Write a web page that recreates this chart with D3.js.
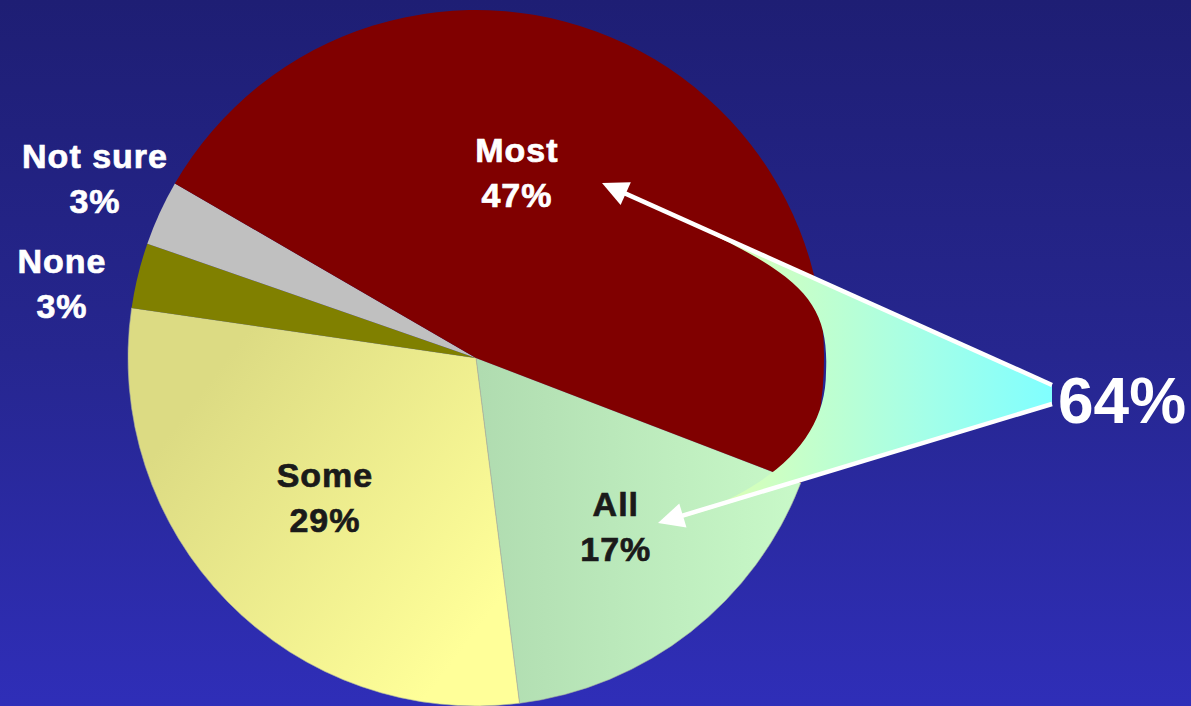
<!DOCTYPE html>
<html>
<head>
<meta charset="utf-8">
<script src="https://cdn.jsdelivr.net/npm/d3@7"></script>
<style>
  html, body { margin: 0; padding: 0; background: #1e1e74; }
  svg { display: block; }
  text { font-family: "Liberation Sans", Arial, Helvetica, sans-serif; font-weight: bold; }
</style>
</head>
<body>
<svg id="chart" width="1191" height="706"></svg>
<script>
// ---- data (drawing order, clockwise) ----
const categories = ["All", "Some", "None", "Not sure", "Most"];
const values = [17, 29, 3, 3, 47];
const valueLabels = ["17%", "29%", "3%", "3%", "47%"];
const highlighted = ["Most", "All"];   // summed into the callout

// ---- style / layout ----
const W = 1191, H = 706;
const cx = 476, cy = 358, R = 348;
const startDeg = 111;
const sliceFill = {
  "All": "url(#gAll)", "Some": "url(#gSome)", "None": "#808000",
  "Not sure": "#c0c0c0", "Most": "#800000"
};
const labelColor = { "All": "#1a1a1a", "Some": "#1a1a1a", "None": "#ffffff", "Not sure": "#ffffff", "Most": "#ffffff" };
// polar label anchors: [angle deg (clockwise from 12 o'clock), radius px]
const labelPolar = { "All": [138.5, 211], "Some": [229.5, 198.6], "None": [281.6, 422.6], "Not sure": [296.5, 425.7], "Most": [11.8, 200.2] };

const svg = d3.select("#chart");
const defs = svg.append("defs");

function lin(id, x1, y1, x2, y2, stops) {
  const g = defs.append("linearGradient").attr("id", id)
    .attr("gradientUnits", "userSpaceOnUse")
    .attr("x1", x1).attr("y1", y1).attr("x2", x2).attr("y2", y2);
  stops.forEach(s => g.append("stop").attr("offset", s[0]).attr("stop-color", s[1]));
}
lin("gBg", 0, 0, 0, H, [[0, "#1e1e74"], [0.5, "#26268f"], [1, "#2f2eb8"]]);
// slice gradients live in the pie group's coordinate space (origin at pie centre)
lin("gSome", 180 - cx, 420 - cy, 470 - cx, 640 - cy, [[0, "#dcdb83"], [1, "#ffff99"]]);
lin("gAll", 480 - cx, 0, 810 - cx, 0, [[0, "#b0dcb0"], [1, "#c9fac9"]]);
lin("gCall", 630, 0, 1052, 0, [[0, "#f4ff98"], [0.35, "#ccffc4"], [0.7, "#a4ffe8"], [1, "#80ffff"]]);

svg.append("rect").attr("width", W).attr("height", H).attr("fill", "url(#gBg)");

const pie = d3.pie().sort(null).value(d => d.v)
  .startAngle(startDeg * Math.PI / 180)
  .endAngle(startDeg * Math.PI / 180 + 2 * Math.PI);
const arc = d3.arc().innerRadius(0).outerRadius(R);
const data = categories.map((c, i) => ({ c, v: values[i], l: valueLabels[i] }));
const arcs = pie(data);

const g = svg.append("g").attr("transform", `translate(${cx},${cy})`);
g.selectAll("path.slice").data(arcs).join("path")
  .attr("class", "slice")
  .attr("d", arc)
  .attr("fill", d => sliceFill[d.data.c])
  .attr("stroke", d => d.data.c === "Some" || d.data.c === "All" ? "#a8b0a0" : "none")
  .attr("stroke-width", 0.6);

// ---- callout (annotation) ----
const callTip = [1052, 385], callTip2 = [1052, 404];
const arrowTop = [602, 183], arrowBot = [658, 523];
const calloutPath = `M${callTip[0]},${callTip[1]} L630,196 C790,268 830,290 826,372 C826,440 772,490 672,521 L${callTip2[0]},${callTip2[1]} Z`;
svg.append("path").attr("d", calloutPath).attr("fill", "url(#gCall)");

function arrow(from, to) {
  const dx = to[0] - from[0], dy = to[1] - from[1];
  const len = Math.hypot(dx, dy), ux = dx / len, uy = dy / len;
  const hl = 26, hw = 12.5;
  const bx = to[0] - ux * hl, by = to[1] - uy * hl;
  svg.append("line").attr("x1", from[0]).attr("y1", from[1]).attr("x2", bx + ux * 2).attr("y2", by + uy * 2)
    .attr("stroke", "#ffffff").attr("stroke-width", 4.5);
  svg.append("path")
    .attr("d", `M${to[0]},${to[1]} L${bx - uy * hw},${by + ux * hw} L${bx + uy * hw},${by - ux * hw} Z`)
    .attr("fill", "#ffffff");
}
arrow(callTip, arrowTop);
arrow(callTip2, arrowBot);

const total = highlighted.reduce((s, c) => s + values[categories.indexOf(c)], 0);
svg.append("text").attr("x", 1058).attr("y", 423)
  .attr("font-size", 64).attr("fill", "#ffffff").text(total + "%");

// ---- slice labels ----
const lab = svg.append("g");
arcs.forEach(d => {
  const [a, r] = labelPolar[d.data.c];
  const rad = a * Math.PI / 180;
  const x = cx + r * Math.sin(rad), y = cy - r * Math.cos(rad);
  const t = lab.append("text").attr("x", x).attr("y", y)
    .attr("text-anchor", "middle").attr("font-size", 34)
    .attr("letter-spacing", 1)
    .attr("fill", labelColor[d.data.c])
    .attr("stroke", labelColor[d.data.c]).attr("stroke-width", 0.7);
  t.append("tspan").attr("x", x).attr("y", y).text(d.data.c);
  t.append("tspan").attr("x", x).attr("y", y + 45).text(d.data.l);
});
</script>
</body>
</html>
